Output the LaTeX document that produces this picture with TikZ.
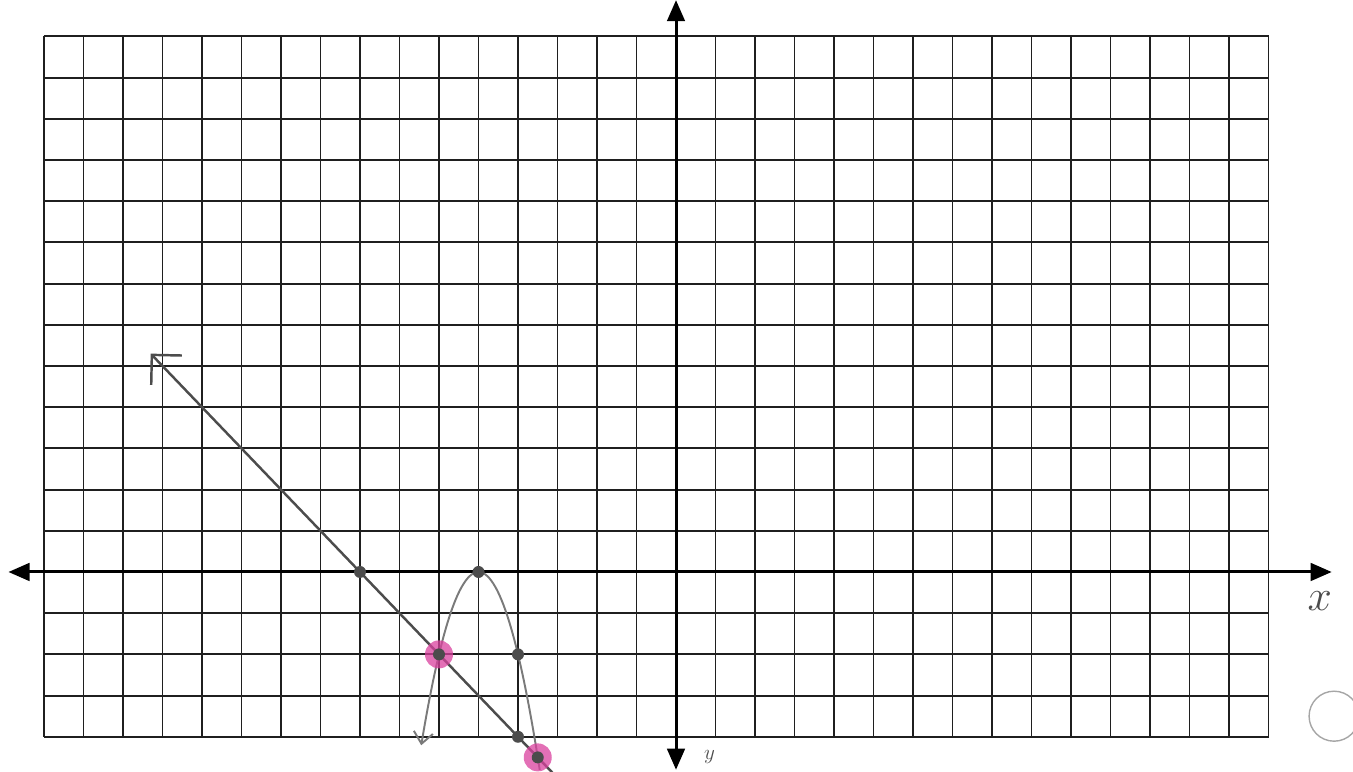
\documentclass[tikz,border=0pt]{standalone}
\usepackage{tkz-euclide}
\usetikzlibrary{arrows.meta,calc}
\definecolor{GridClr}{rgb}{0.12,0.12,0.12}
\definecolor{LineClr}{rgb}{0.3,0.3,0.3}
\definecolor{CurveClr}{rgb}{0.48,0.48,0.48}
\definecolor{MeetClr}{rgb}{0.85,0.25,0.62}
\tikzset{
  axis/.style={line width=1.7pt,black,{Triangle[length=12pt,width=10pt]}-{Triangle[length=12pt,width=10pt]}},
  sheet/.style={GridClr,line width=1.1pt,step=1},
}

\begin{document}
\begin{tikzpicture}[x=0.79cm,y=0.824cm]
\useasboundingbox (-17.114,-4.854) rectangle (17.139,13.883);

\tkzDefPoints{-16.9/0/xL,16.6/0/xR,0/-4.8/yB,0/13.88/yT}
\tkzDefPoints{-8/0/P,-5/0/V,-6/-2/M,-4/-2/Q,-4/-4/R,-3.5/-4.5/N}
\tkzDefPoints{-13.3/5.3/T,-3.1/-4.9/S,16.66/-3.5/O}

% grid paper
\draw[sheet] (-16,-4) grid (15,13);

% axes
\draw[axis] (xL) -- (xR);
\draw[axis] (yB) -- (yT);

% line and parabola
\draw[LineClr,line width=1.4pt,{Straight Barb[angle=90:0.6cm]}-] (T) -- (S);
\draw[CurveClr,line width=1.1pt,{Straight Barb[angle=80:0.3cm]}-]
  plot[domain=-6.45:-3.45,samples=60,smooth] (\x,{-2*(\x+5)*(\x+5)});

% where they meet
\foreach \p in {M,N}
  \fill[MeetClr,opacity=0.75] (\p) circle (0.28cm);
\foreach \p in {P,V,Q,R,M,N}
  \fill[LineClr] (\p) circle (0.12cm);

\node[LineClr,font=\fontsize{30}{30}\selectfont] (xlab) at (16.3,-0.7) {$x$};
\node[LineClr,font=\large,inner sep=1pt] (ylab) at (0.85,-4.5) {$y$};
\draw[gray!70,line width=0.8pt] (O) circle (0.5cm);

\end{tikzpicture}
\end{document}
